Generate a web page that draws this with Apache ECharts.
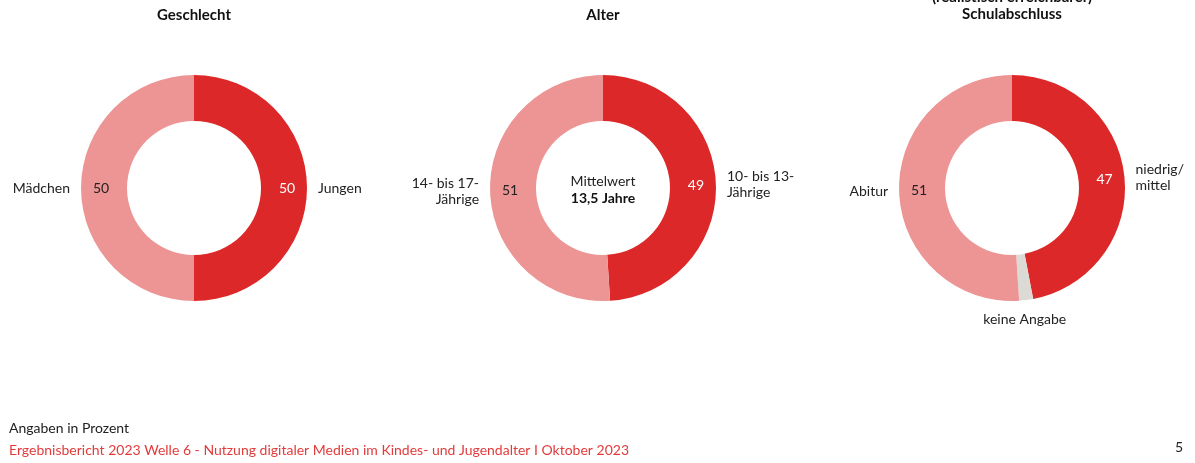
<!DOCTYPE html>
<html><head><meta charset="utf-8">
<script src="https://cdn.jsdelivr.net/npm/echarts@6/dist/echarts.min.js"></script>
<style>html,body{margin:0;padding:0;background:#fff}#c{width:1195px;height:463px}</style>
</head><body><div id="c"></div>
<script>
const titles = ['Geschlecht', 'Alter', '(realistisch erreichbarer)\nSchulabschluss'];
const genderNames = ['Jungen', 'Mädchen'];
const genderValues = [50, 50];
const ageNames = ['10- bis 13-\nJährige', '14- bis 17-\nJährige'];
const ageValues = [49, 51];
const schoolNames = ['niedrig/\nmittel', 'keine Angabe', 'Abitur'];
const schoolValues = [47, 2, 51];
const ageMean = ['Mittelwert', '13,5 Jahre'];

const DARK = '#dc2828', LIGHT = '#ed9494', GRAY = '#dcdad5';
const FONT = 'Lato';
const centers = [[194, 188], [603, 188], [1012, 188]];
const radius = [67, 113];

function build(names, values, colors, valueColors) {
  return names.map((n, i) => ({ name: n, value: values[i], itemStyle: { color: colors[i] }, label: { color: valueColors[i] } }));
}
const sets = [
  build(genderNames, genderValues, [DARK, LIGHT], ['#fff', '#222']),
  build(ageNames, ageValues, [DARK, LIGHT], ['#fff', '#222']),
  build(schoolNames, schoolValues, [DARK, GRAY, LIGHT], ['#fff', 'transparent', '#222'])
];

const series = [];
sets.forEach((data, k) => {
  series.push({
    type: 'pie', center: centers[k], radius: radius, startAngle: 90, clockwise: true,
    silent: true, animation: false, avoidLabelOverlap: false,
    label: { show: true, position: 'inside', formatter: '{c}', fontFamily: FONT, fontSize: 14 },
    labelLine: { show: false },
    emphasis: { disabled: true },
    data: data
  });
  series.push({
    type: 'pie', center: centers[k], radius: radius, startAngle: 90, clockwise: true,
    silent: true, animation: false, avoidLabelOverlap: false, z: 3,
    itemStyle: { color: 'transparent' },
    label: { show: true, position: 'outside', formatter: '{b}', fontFamily: FONT, fontSize: 14, color: '#222', lineHeight: 16, distanceToLabelLine: 11 },
    labelLine: { show: false, length: 0, length2: 0 },
    emphasis: { disabled: true },
    labelLayout: function (p) {
      if (k === 2 && p.dataIndex === 1) {
        return { x: p.rect.x + p.rect.width / 2, y: p.rect.y + p.rect.height + 19, align: 'center', verticalAlign: 'middle' };
      }
      return {};
    },
    data: data.map(d => ({ name: d.name, value: d.value, itemStyle: { color: 'transparent' } }))
  });
});

const graphic = [];
titles.forEach((t, k) => {
  graphic.push({ type: 'text', x: centers[k][0], y: k === 2 ? 23 : 15,
    style: { text: t, align: 'center', verticalAlign: k === 2 ? 'bottom' : 'middle', fontFamily: FONT, fontSize: 15, fontWeight: 'bold', fill: '#111', lineHeight: 17 } });
});
graphic.push({ type: 'text', x: centers[1][0], y: 181, style: { text: ageMean[0], align: 'center', verticalAlign: 'middle', fontFamily: FONT, fontSize: 14, fill: '#222' } });
graphic.push({ type: 'text', x: centers[1][0], y: 198, style: { text: ageMean[1], align: 'center', verticalAlign: 'middle', fontFamily: FONT, fontSize: 14, fontWeight: 'bold', fill: '#111' } });
graphic.push({ type: 'text', x: 9, y: 428, style: { text: 'Angaben in Prozent', align: 'left', verticalAlign: 'middle', fontFamily: FONT, fontSize: 14, fill: '#222' } });
graphic.push({ type: 'text', x: 9, y: 450, style: { text: 'Ergebnisbericht 2023 Welle 6 - Nutzung digitaler Medien im Kindes- und Jugendalter I Oktober 2023', align: 'left', verticalAlign: 'middle', fontFamily: FONT, fontSize: 14, fill: '#e23b3b' } });
graphic.push({ type: 'text', x: 1183, y: 447, style: { text: '5', align: 'right', verticalAlign: 'middle', fontFamily: FONT, fontSize: 14, fill: '#222' } });

const chart = echarts.init(document.getElementById('c'), null, { renderer: 'canvas' });
chart.setOption({ animation: false, series: series, graphic: graphic });
</script></body></html>
